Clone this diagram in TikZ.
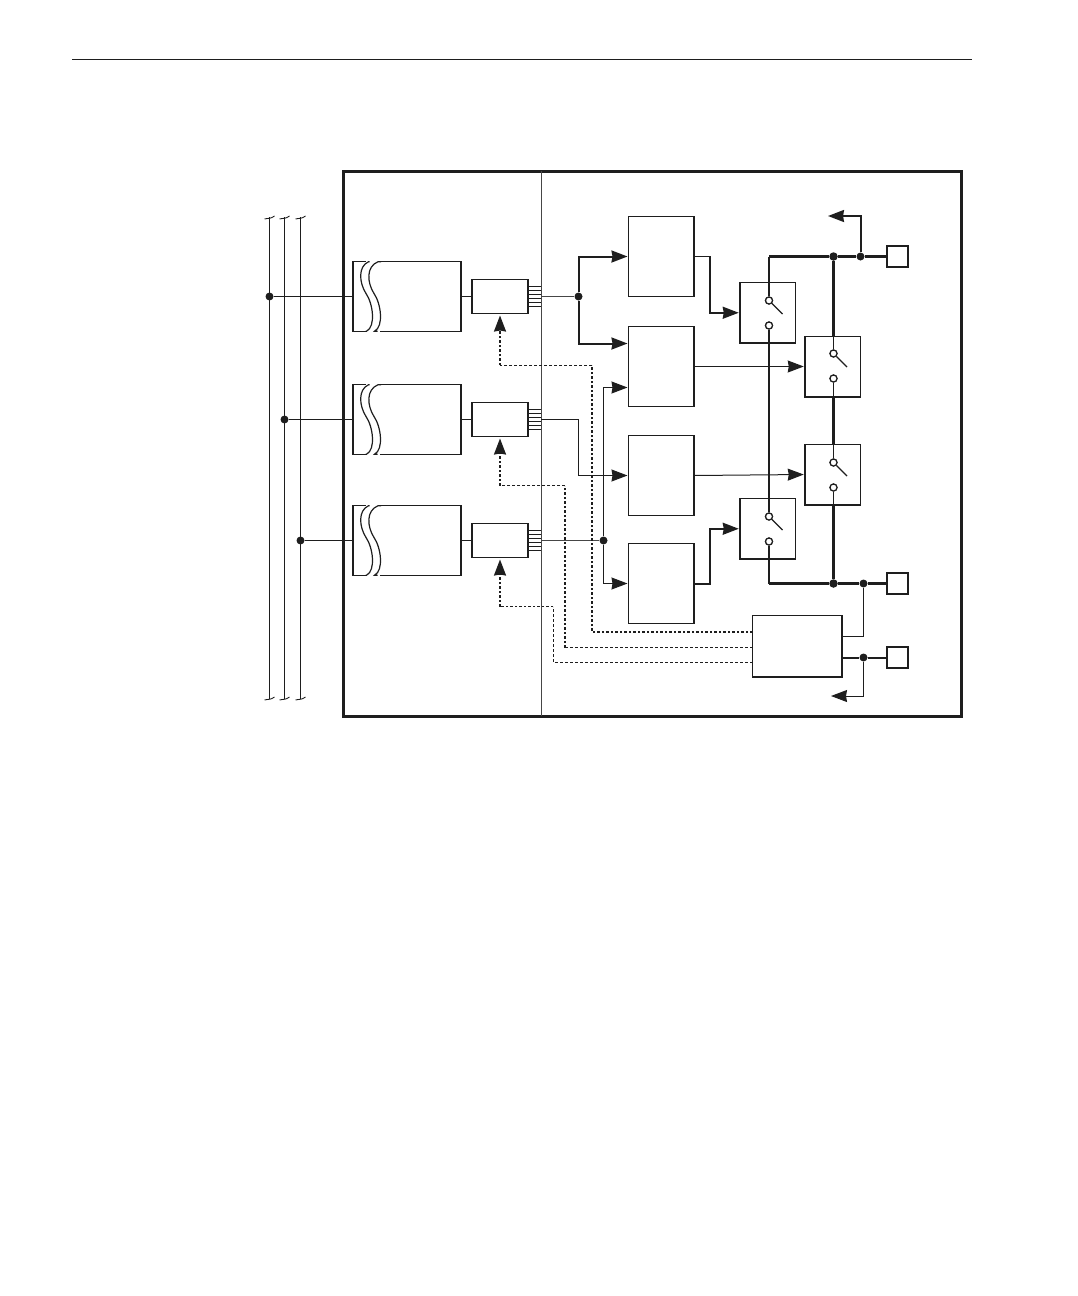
\documentclass[tikz,border=0pt]{standalone}
\usepackage{xcolor}
\usetikzlibrary{arrows.meta,positioning,calc}
\definecolor{cInk}{RGB}{30,30,30}
\definecolor{cWire}{RGB}{70,70,70}
\tikzset{
  blk/.style={draw=cInk, fill=white, line width=1.5pt, inner sep=0pt, outer sep=0pt,
              minimum width=65.5pt, minimum height=80pt},
  adc/.style={draw=cInk, fill=white, line width=1.5pt, inner sep=0pt, outer sep=0pt,
              minimum width=56pt, minimum height=34pt},
  flt/.style={draw=cInk, fill=white, line width=1.3pt, inner sep=0pt, outer sep=0pt,
              minimum width=108pt, minimum height=69.5pt},
  sw/.style={draw=cInk, fill=white, line width=1.5pt, inner sep=0pt, outer sep=0pt,
             minimum width=55.5pt, minimum height=60.5pt},
  term/.style={draw=cInk, fill=white, line width=1.6pt, inner sep=0pt, outer sep=0pt,
               minimum width=21pt, minimum height=21pt},
  dotn/.style={circle, fill=cInk, inner sep=0pt, minimum size=8pt},
  pin/.style={circle, draw=cInk, fill=white, line width=1.2pt, inner sep=0pt, minimum size=7pt},
  ar/.style={-{Stealth[length=16pt, width=12pt, inset=1pt]}, draw=cInk, shorten >=1pt},
  wire/.style={draw=cInk, line width=1pt},
  mwire/.style={draw=cInk, line width=2pt},
  bus/.style={draw=cInk, line width=3.2pt},
  dthin/.style={draw=cInk, line width=1pt, dash pattern=on 3pt off 2pt},
  dthick/.style={draw=cInk, line width=1.8pt, dash pattern=on 2.5pt off 2pt},
}
\begin{document}
\begin{tikzpicture}[x=1pt, y=-1pt]
\useasboundingbox (0,0) rectangle (1078,1296);
% page rule
\coordinate (ruleL) at (72,59);
\coordinate (ruleR) at (972,59);
\draw[draw=cInk, line width=1pt] (ruleL) -- (ruleR);

% frame
\draw[draw=cInk, line width=3pt] (343.5,171.5) rectangle (961.5,716.5);
\draw[draw=cWire, line width=1.4pt] (541.5,171) -- (541.5,716);

% line bars: {name}{x}{width}
\foreach \l/\xx/\lw in {1/269.5/1.1, 2/284.5/1.1, 3/300.5/1.8} {
  \draw[draw=cInk, line width=\lw pt] (\xx,217) -- (\xx,698.5);
  \draw[draw=cInk, line width=0.9pt] (\xx-5,219) .. controls (\xx-1,218) and (\xx+1,219) .. (\xx+5,216);
  \draw[draw=cInk, line width=0.9pt] (\xx-5,700) .. controls (\xx-1,699) and (\xx+1,700) .. (\xx+5,697);
}

% input rows: {row}{y}{bar x}
\foreach \r/\yy/\xb in {1/296.5/269.5, 2/419.5/284.5, 3/540.5/300.5} {
  \node[dotn] (tap\r) at (\xb,\yy) {};
  \node[flt] (flt\r) at (407,\yy) {};
  \node[adc] (adc\r) at (500,\yy) {};
  \draw[wire] (tap\r) -- (flt\r.west);
  \draw[wire] (flt\r.east) -- (adc\r.west);
  \fill[white] (366,\yy-36) rectangle (380,\yy+36);
  \draw[draw=cInk, line width=1.2pt] (369.5,\yy-34.75) -- ++(-1,0) .. controls (358,\yy-30) and (359,\yy-14) .. (366,\yy-3)
    .. controls (373,\yy+7) and (376,\yy+30) .. (366.5,\yy+34.75) -- ++(-1,0);
  \draw[draw=cInk, line width=1.2pt] (381,\yy-34.75) -- ++(-3,0) .. controls (366,\yy-30) and (367,\yy-14) .. (374,\yy-3)
    .. controls (381,\yy+7) and (384,\yy+30) .. (374.5,\yy+34.75) -- ++(3,0);
  \foreach \k in {-10,-6,-2,2,6,10}
    \draw[draw=cInk, line width=0.9pt] ($(adc\r.east)+(0,\k)$) -- ++(13,0);
}

% channel blocks
\node[blk] (chA) at (661.25,256.5) {};
\node[blk] (chB) at (661.25,366.5) {};
\node[blk] (chC) at (661.25,475.5) {};
\node[blk] (chD) at (661.25,583.5) {};
\coordinate (inB1) at (628.5,343.5);
\coordinate (inB2) at (628.5,387.5);

% switches
\node[sw] (swA) at (767.5,312.75) {};
\node[sw] (swB) at (832.5,366.5) {};
\node[sw] (swC) at (832.5,474.5) {};
\node[sw] (swD) at (767.5,528.75) {};

% control block and terminals
\node[draw=cInk, fill=white, line width=1.3pt, inner sep=0pt, outer sep=0pt,
      minimum width=89.5pt, minimum height=61.5pt] (ctl) at (797.25,646.25) {};
\node[term] (termA) at (897.5,256.5) {};
\node[term] (termB) at (897.5,583.5) {};
\node[term] (termC) at (897.5,657.5) {};

% contacts
\foreach \s/\xx/\yy in {swA/769/300.5, swB/833.5/353.5, swC/833.5/462.5, swD/769/516.5} {
  \node[pin] (\s up) at (\xx,\yy) {};
  \node[pin] (\s lo) at (\xx,\yy+25) {};
  \draw[draw=cInk, line width=1.3pt] (\s up) -- ++(13.5,13.5);
}

% splits from the converters
\node[dotn] (splitA) at (578.5,296.5) {};
\node[dotn] (splitC) at (603.5,540.5) {};
\coordinate (bendB) at (578.5,419.5);
\draw[wire, draw=cWire] ($(adc1.east)+(13,0)$) -- (splitA);
\draw[wire, draw=cWire, line width=1.8pt] ($(adc3.east)+(13,0)$) -- (splitC);
\draw[wire] ($(adc2.east)+(13,0)$) -- (bendB);
\draw[ar, line width=2pt] (splitA) |- (chA.west);
\draw[ar, line width=2pt] (splitA) |- (inB1);
\draw[ar, line width=1pt] (bendB) |- (chC.west);
\draw[ar, line width=1pt] (splitC) |- (inB2);
\draw[ar, line width=1pt] (splitC) |- (chD.west);

% channel outputs
\coordinate (elbowA) at (710,256.5);
\coordinate (elbowD) at (710,583.5);
\draw[ar, line width=1.8pt] (chA.east) -- (elbowA) |- (swA.west);
\draw[ar, line width=2pt] (chD.east) -- (elbowD) |- (swD.west);
\draw[ar, line width=1pt] (chB.east) -- (swB.west);
\draw[ar, line width=1pt] (chC.east) -- (swC.west);

% output rails
\node[dotn, minimum size=8.5pt] (railA) at (833.5,256.5) {};
\node[dotn, minimum size=8.5pt] (railB) at (833.5,583.5) {};
\node[dotn] (outA) at (860.5,256.5) {};
\node[dotn] (outB) at (863.5,583.5) {};
\node[dotn] (outC) at (863.5,657.5) {};
\coordinate (cornerA) at (769,256.5);
\coordinate (cornerB) at (769,583.5);
\coordinate (retA) at (827,216);
\coordinate (retC) at (830,696);
\coordinate (ctlOut) at (842,636);
\coordinate (ctlA) at (752.5,632);
\coordinate (ctlB) at (752.5,647.5);
\coordinate (ctlC) at (752.5,662);
\draw[bus] (cornerA) -- (railA) -- (outA) -- (termA.west);
\draw[bus] (cornerB) -- (railB) -- (outB) -- (termB.west);
\draw[bus, line width=3.5pt] (railA) -- (railA |- swB.north);
\draw[bus, line width=3.5pt] (railA |- swB.south) -- (railA |- swC.north);
\draw[bus, line width=3.5pt] (railA |- swC.south) -- (railB);
\draw[mwire] (cornerA) -- (swAup);
\draw[mwire] (cornerB) -- (swDlo);
\draw[mwire] (swAlo) -- (swDup);
\draw[wire] (swBup |- swB.north) -- (swBup);
\draw[wire] (swBlo) -- (swBlo |- swB.south);
\draw[wire] (swCup |- swC.north) -- (swCup);
\draw[wire] (swClo) -- (swClo |- swC.south);
\draw[ar, line width=2pt] (outA) |- (retA);
\draw[wire] (ctlOut) -| (outB);
\draw[mwire] (ctl.east |- outC) -- (outC) -- (termC.west);
\draw[ar, line width=1pt] (outC) |- (retC);
\node[pin] at (swAup) {};
\node[pin] at (swAlo) {};
\node[pin] at (swBup) {};
\node[pin] at (swBlo) {};
\node[pin] at (swCup) {};
\node[pin] at (swClo) {};
\node[pin] at (swDup) {};
\node[pin] at (swDlo) {};

% control lines
\coordinate (bendA1) at (592,632);
\coordinate (bendA2) at (592,365);
\coordinate (bendA3) at (500,365);
\coordinate (bendB1) at (565,647.5);
\coordinate (bendB2) at (565,485.5);
\coordinate (bendB3) at (500,485.5);
\coordinate (bendC1) at (553,662);
\coordinate (bendC2) at (553,606.5);
\coordinate (bendC3) at (500,606.5);
\draw[dthick] (ctlA) -- (bendA1) -- (bendA2);
\draw[dthin] (bendA2) -- (bendA3);
\draw[ar, dthick, shorten >=2pt] (bendA3) -- (adc1.south);
\draw[dthin] (ctlB) -- (bendB1);
\draw[dthick] (bendB1) -- (bendB2);
\draw[dthin] (bendB2) -- (bendB3);
\draw[ar, dthick, shorten >=2pt] (bendB3) -- (adc2.south);
\draw[dthin] (ctlC) -- (bendC1) -- (bendC2);
\draw[dthick] (bendC2) -- (bendC3);
\draw[ar, dthick, shorten >=2pt] (bendC3) -- (adc3.south);
\end{tikzpicture}
\end{document}
